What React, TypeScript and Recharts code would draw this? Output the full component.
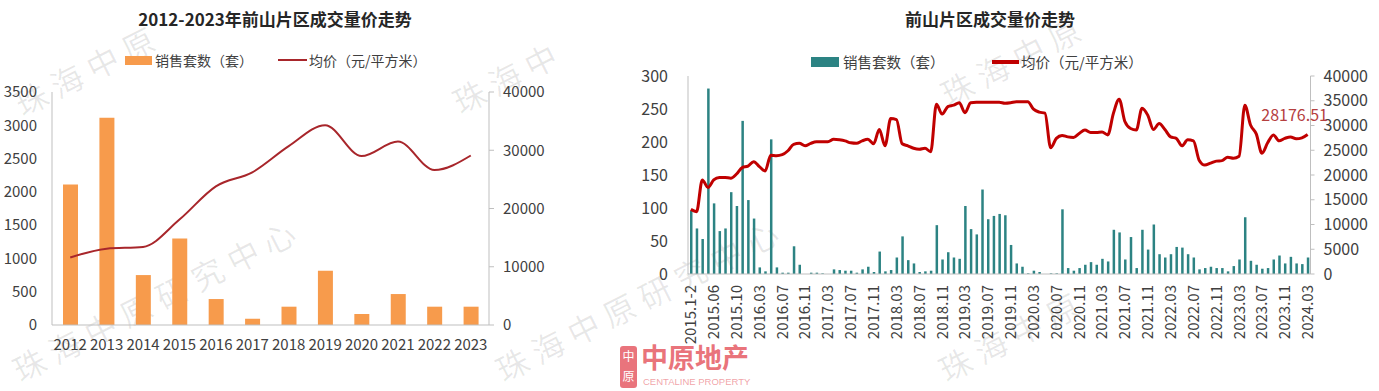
import React from 'react';
import { ComposedChart, Bar, Line, XAxis, YAxis, LabelList } from 'recharts';

// ---------- Left chart data ----------
const years = ['2012', '2013', '2014', '2015', '2016', '2017', '2018', '2019', '2020', '2021', '2022', '2023'];
const annualSales = [2110, 3115, 750, 1300, 390, 95, 275, 815, 165, 465, 275, 275];
const annualPrice = [11600, 13100, 13400, 18100, 23800, 26200, 30700, 34300, 29000, 31500, 26600, 29100];
const leftSalesTicks = [0, 500, 1000, 1500, 2000, 2500, 3000, 3500];
const leftPriceTicks = [0, 10000, 20000, 30000, 40000];

// ---------- Right chart data ----------
const months = [
  '2015.1-2', '2015.03', '2015.04', '2015.05', '2015.06', '2015.07', '2015.08', '2015.09', '2015.10', '2015.11', '2015.12',
  '2016.1-2', '2016.03', '2016.04', '2016.05', '2016.06', '2016.07', '2016.08', '2016.09', '2016.10', '2016.11', '2016.12',
  '2017.01', '2017.02', '2017.03', '2017.04', '2017.05', '2017.06', '2017.07', '2017.08', '2017.09', '2017.10', '2017.11', '2017.12',
  '2018.01', '2018.02', '2018.03', '2018.04', '2018.05', '2018.06', '2018.07', '2018.08', '2018.09', '2018.10', '2018.11', '2018.12',
  '2019.01', '2019.02', '2019.03', '2019.04', '2019.05', '2019.06', '2019.07', '2019.08', '2019.09', '2019.10', '2019.11', '2019.12',
  '2020.01', '2020.02', '2020.03', '2020.04', '2020.05', '2020.06', '2020.07', '2020.08', '2020.09', '2020.10', '2020.11', '2020.12',
  '2021.01', '2021.02', '2021.03', '2021.04', '2021.05', '2021.06', '2021.07', '2021.08', '2021.09', '2021.10', '2021.11', '2021.12',
  '2022.01', '2022.02', '2022.03', '2022.04', '2022.05', '2022.06', '2022.07', '2022.08', '2022.09', '2022.10', '2022.11', '2022.12',
  '2023.01', '2023.02', '2023.03', '2023.04', '2023.05', '2023.06', '2023.07', '2023.08', '2023.09', '2023.10', '2023.11', '2023.12',
  '2024.01', '2024.02', '2024.03',
];
const monthlySales = [
  96, 69, 53, 281, 107, 65, 69, 124, 103, 232, 112,
  84, 10, 4, 204, 10, 2, 2, 42, 14, 0, 2,
  2, 1, 0, 7, 6, 5, 5, 2, 7, 11, 3, 34,
  4, 6, 25, 57, 21, 16, 3, 4, 5, 74, 22, 33,
  25, 23, 103, 68, 60, 128, 83, 88, 91, 89, 44, 16,
  11, 1, 5, 3, 0, 1, 1, 98, 9, 5, 9, 14,
  18, 14, 23, 19, 67, 63, 22, 56, 9, 67, 37, 75,
  30, 25, 30, 41, 40, 30, 25, 7, 9, 11, 9, 9,
  4, 12, 22, 86, 20, 14, 8, 9, 22, 28, 16, 26,
  16, 15, 25,
];
const monthlyPrice = [
  13060, 12600, 19000, 17500, 19000, 19500, 19500, 19350, 20200, 21500, 21800,
  22700, 21700, 20800, 24000, 23900, 24100, 24900, 26200, 26400, 25900, 26400,
  26700, 26700, 26700, 27200, 27100, 26900, 26500, 26400, 26900, 27200, 26300, 29200,
  25900, 31400, 31200, 26300, 25900, 25400, 25200, 25400, 24700, 34300, 32300, 33800,
  34100, 34600, 32600, 34600, 34700, 34700, 34700, 34700, 34700, 34500, 34600, 34800,
  34800, 34800, 33300, 32700, 32500, 25500, 27400, 28000, 27700, 27600, 28400, 29100,
  28600, 28600, 28700, 28100, 32500, 35300, 30800, 29400, 29100, 33500, 32100, 29200,
  30400, 29200, 27700, 27400, 25900, 27100, 26900, 23000, 22000, 22400, 22800, 22900,
  23600, 23400, 23800, 34100, 30100, 28300, 24400, 26500, 28100, 26900, 27400, 27700,
  27300, 27500, 28176.51,
];
const rightSalesTicks = [0, 50, 100, 150, 200, 250, 300];
const rightPriceTicks = [0, 5000, 10000, 15000, 20000, 25000, 30000, 35000, 40000];

const annualData = years.map((y, i) => ({ year: y, sales: annualSales[i], price: annualPrice[i] }));
const monthlyData = months.map((m, i) => ({ month: m, sales: monthlySales[i], price: monthlyPrice[i] }));

const FONT = '"Noto Sans CJK SC", "Noto Sans", sans-serif';
const TEXT = '#404040';
const AXIS = '#BFBFBF';
const ORANGE = '#F79B4C';
const TEAL = '#2C8383';
const DARKRED = '#A8262B';
const RED = '#C00000';

const RotTick = (props: any) => {
  const { x, y, payload } = props;
  return (
    <g transform={`translate(${x},${y})`}>
      <text transform="rotate(-90)" x={-11} y={0} dy="0.36em" textAnchor="end" fill={TEXT} fontSize={15} fontFamily={FONT}>
        {payload.value}
      </text>
    </g>
  );
};

const lastLabel = (props: any) => {
  const { x, y, index, value } = props;
  if (index !== monthlyData.length - 1) return null;
  return (
    <text x={x - 13} y={y - 14} textAnchor="middle" fill="#B5403F" fontSize={16} fontFamily={FONT}>
      {value}
    </text>
  );
};

// faint diagonal watermark fragments (only the parts that fit in the picture)
const watermarks = [
  { x: 24, y: 120, t: '珠海中原' },
  { x: 22, y: 386, t: '珠海中原研究中心' },
  { x: 462, y: 118, t: '珠海中' },
  { x: 505, y: 386, t: '珠海中原研究中心' },
  { x: 950, y: 110, t: '珠海中原' },
  { x: 948, y: 386, t: '珠海中原' },
];

export default function App() {
  return (
    <div style={{ position: 'absolute', left: 0, top: 0, width: 1379, height: 391, background: '#fff', fontFamily: FONT, overflow: 'hidden' }}>
      {/* watermarks */}
      {watermarks.map((w, i) => (
        <div
          key={i}
          style={{
            position: 'absolute', left: w.x, top: w.y - 34, height: 34, fontSize: 32, lineHeight: '34px', letterSpacing: 8,
            whiteSpace: 'nowrap', color: 'rgba(0,0,0,0.09)', transform: 'rotate(-27deg)', transformOrigin: '0% 100%',
            pointerEvents: 'none',
          }}
        >
          {w.t}
        </div>
      ))}

      {/* Left title and legend */}
      <div style={{ position: 'absolute', left: 0, top: 7, width: 550, textAlign: 'center', fontSize: 17, fontWeight: 'bold', color: '#262626', lineHeight: '24px' }}>
        2012-2023年前山片区成交量价走势
      </div>
      <div style={{ position: 'absolute', left: 125, top: 56, width: 27, height: 9, background: ORANGE }} />
      <div style={{ position: 'absolute', left: 155, top: 50, fontSize: 14, color: TEXT, lineHeight: '20px' }}>销售套数（套）</div>
      <div style={{ position: 'absolute', left: 278, top: 59, width: 29, height: 2, background: DARKRED }} />
      <div style={{ position: 'absolute', left: 309, top: 50, fontSize: 14, color: TEXT, lineHeight: '20px' }}>均价（元/平方米）</div>

      <div style={{ position: 'absolute', left: 0, top: 0 }}>
        <ComposedChart width={560} height={391} data={annualData} margin={{ top: 92, right: 5, bottom: 36, left: 0 }}>
          <XAxis dataKey="year" height={30} interval={0} tickLine={false} tickSize={0} tickMargin={14}
            axisLine={{ stroke: AXIS }} tick={{ fill: TEXT, fontSize: 15, fontFamily: FONT }} />
          <YAxis yAxisId="left" width={52} domain={[0, 3500]} ticks={leftSalesTicks} interval={0} tickLine={false}
            tickSize={6} tickMargin={9} axisLine={{ stroke: AXIS }} tick={{ fill: TEXT, fontSize: 15, fontFamily: FONT }} />
          <YAxis yAxisId="right" orientation="right" width={66} domain={[0, 40000]} ticks={leftPriceTicks} interval={0}
            tickSize={5} tickMargin={9} tickLine={{ stroke: AXIS }} axisLine={{ stroke: AXIS }}
            tick={{ fill: TEXT, fontSize: 15, fontFamily: FONT }} />
          <Bar yAxisId="left" dataKey="sales" fill={ORANGE} barSize={15} isAnimationActive={false} />
          <Line yAxisId="right" dataKey="price" type="monotone" stroke={DARKRED} strokeWidth={2} dot={false} isAnimationActive={false} />
        </ComposedChart>
      </div>

      {/* Right title and legend */}
      <div style={{ position: 'absolute', left: 790, top: 7, width: 400, textAlign: 'center', fontSize: 17, fontWeight: 'bold', color: '#262626', lineHeight: '24px' }}>
        前山片区成交量价走势
      </div>
      <div style={{ position: 'absolute', left: 811, top: 57, width: 28, height: 10, background: TEAL }} />
      <div style={{ position: 'absolute', left: 843, top: 52, fontSize: 14.5, color: TEXT, lineHeight: '20px' }}>销售套数（套）</div>
      <div style={{ position: 'absolute', left: 992, top: 60, width: 27, height: 3.5, background: RED }} />
      <div style={{ position: 'absolute', left: 1021, top: 52, fontSize: 14.5, color: TEXT, lineHeight: '20px' }}>均价（元/平方米）</div>

      <div style={{ position: 'absolute', left: 600, top: 0 }}>
        <ComposedChart width={779} height={391} data={monthlyData} margin={{ top: 76, right: 8.5, bottom: 42, left: 28 }}>
          <XAxis dataKey="month" height={75} interval={3} tickLine={false} tickSize={0} tickMargin={0}
            axisLine={{ stroke: AXIS }} tick={<RotTick />} />
          <YAxis yAxisId="left" width={60} domain={[0, 300]} ticks={rightSalesTicks} interval={0} tickLine={false}
            tickSize={6} tickMargin={14} axisLine={{ stroke: AXIS }} tick={{ fill: TEXT, fontSize: 16, fontFamily: FONT }} />
          <YAxis yAxisId="right" orientation="right" width={60} domain={[0, 40000]} ticks={rightPriceTicks} interval={0}
            tickSize={4} tickMargin={9} tickLine={{ stroke: AXIS }} axisLine={{ stroke: AXIS }}
            tick={{ fill: TEXT, fontSize: 16, fontFamily: FONT }} />
          <Bar yAxisId="left" dataKey="sales" fill={TEAL} barSize={2.5} isAnimationActive={false} />
          <Line yAxisId="right" dataKey="price" type="monotone" stroke={RED} strokeWidth={3} dot={false} isAnimationActive={false}>
            <LabelList dataKey="price" content={lastLabel} />
          </Line>
        </ComposedChart>
      </div>

      {/* Centaline logo */}
      <div style={{ position: 'absolute', left: 620, top: 346, width: 17, height: 42, background: 'rgba(226,70,80,0.75)', borderRadius: 3,
        color: '#fff', fontSize: 12, lineHeight: '20px', textAlign: 'center' }}>
        中<br />原
      </div>
      <div style={{ position: 'absolute', left: 641, top: 340, fontSize: 27, fontWeight: 'bold', color: 'rgba(226,70,80,0.75)', lineHeight: '34px', letterSpacing: 0 }}>
        中原地产
      </div>
      <div style={{ position: 'absolute', left: 643, top: 376, fontSize: 9.5, color: 'rgba(226,70,80,0.5)', lineHeight: '12px', fontFamily: '"Liberation Sans", sans-serif' }}>
        CENTALINE PROPERTY
      </div>
    </div>
  );
}
